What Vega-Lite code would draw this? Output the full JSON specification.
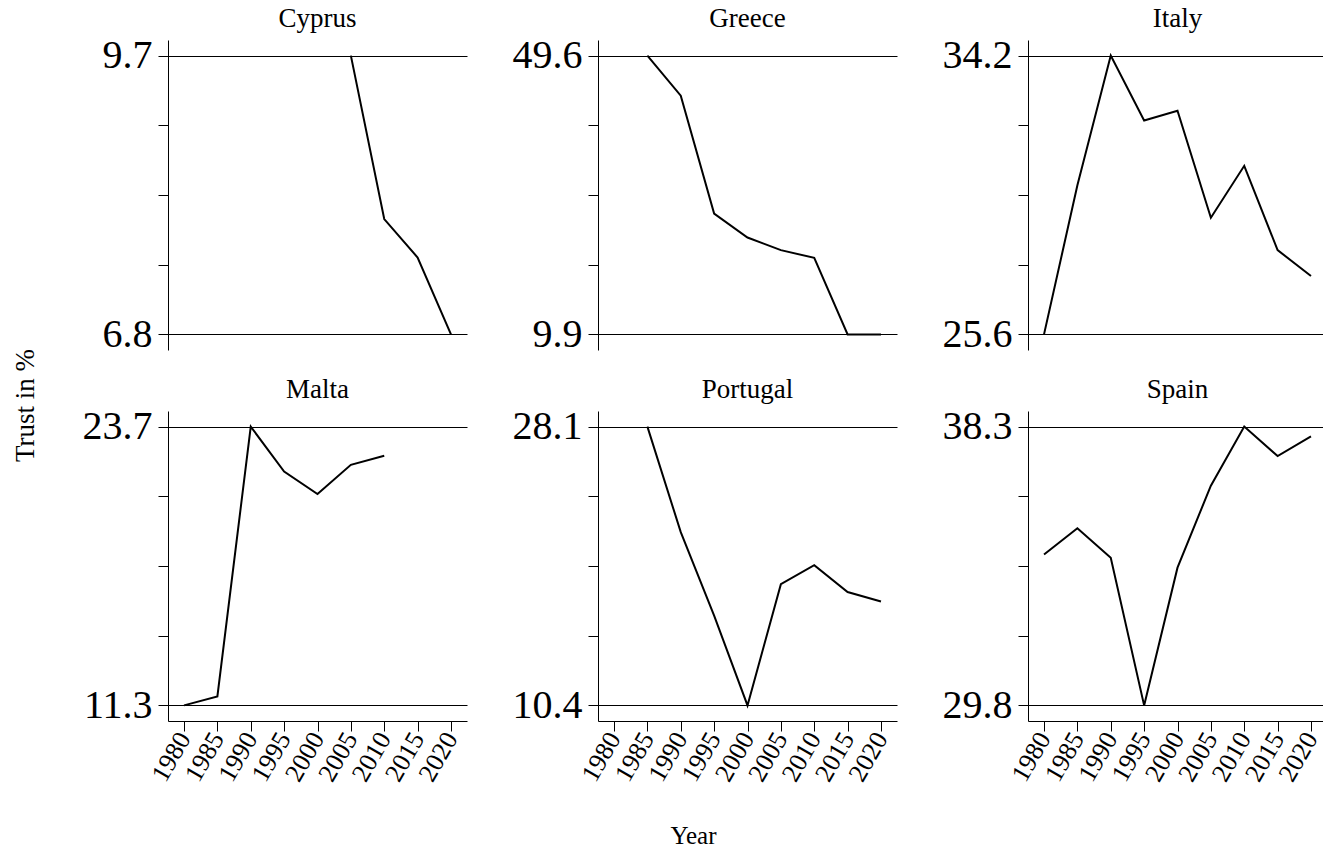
{
  "$schema": "https://vega.github.io/schema/vega-lite/v6.json",
  "background": "white",
  "padding": {"left": 11, "top": 5, "right": 0, "bottom": 5},
  "datasets": {
    "trust": [
      {"country": "Cyprus", "year": 2005, "trust": 9.7},
      {"country": "Cyprus", "year": 2010, "trust": 8.0},
      {"country": "Cyprus", "year": 2015, "trust": 7.6},
      {"country": "Cyprus", "year": 2020, "trust": 6.8},
      {"country": "Greece", "year": 1985, "trust": 49.6},
      {"country": "Greece", "year": 1990, "trust": 43.9},
      {"country": "Greece", "year": 1995, "trust": 27.1},
      {"country": "Greece", "year": 2000, "trust": 23.7},
      {"country": "Greece", "year": 2005, "trust": 21.9},
      {"country": "Greece", "year": 2010, "trust": 20.8},
      {"country": "Greece", "year": 2015, "trust": 9.9},
      {"country": "Greece", "year": 2020, "trust": 9.9},
      {"country": "Italy", "year": 1980, "trust": 25.6},
      {"country": "Italy", "year": 1985, "trust": 30.2},
      {"country": "Italy", "year": 1990, "trust": 34.2},
      {"country": "Italy", "year": 1995, "trust": 32.2},
      {"country": "Italy", "year": 2000, "trust": 32.5},
      {"country": "Italy", "year": 2005, "trust": 29.2},
      {"country": "Italy", "year": 2010, "trust": 30.8},
      {"country": "Italy", "year": 2015, "trust": 28.2},
      {"country": "Italy", "year": 2020, "trust": 27.4},
      {"country": "Malta", "year": 1980, "trust": 11.3},
      {"country": "Malta", "year": 1985, "trust": 11.7},
      {"country": "Malta", "year": 1990, "trust": 23.7},
      {"country": "Malta", "year": 1995, "trust": 21.7},
      {"country": "Malta", "year": 2000, "trust": 20.7},
      {"country": "Malta", "year": 2005, "trust": 22.0},
      {"country": "Malta", "year": 2010, "trust": 22.4},
      {"country": "Portugal", "year": 1985, "trust": 28.1},
      {"country": "Portugal", "year": 1990, "trust": 21.4},
      {"country": "Portugal", "year": 1995, "trust": 16.1},
      {"country": "Portugal", "year": 2000, "trust": 10.4},
      {"country": "Portugal", "year": 2005, "trust": 18.1},
      {"country": "Portugal", "year": 2010, "trust": 19.3},
      {"country": "Portugal", "year": 2015, "trust": 17.6},
      {"country": "Portugal", "year": 2020, "trust": 17.0},
      {"country": "Spain", "year": 1980, "trust": 34.4},
      {"country": "Spain", "year": 1985, "trust": 35.2},
      {"country": "Spain", "year": 1990, "trust": 34.3},
      {"country": "Spain", "year": 1995, "trust": 29.8},
      {"country": "Spain", "year": 2000, "trust": 34.0},
      {"country": "Spain", "year": 2005, "trust": 36.5},
      {"country": "Spain", "year": 2010, "trust": 38.3},
      {"country": "Spain", "year": 2015, "trust": 37.4},
      {"country": "Spain", "year": 2020, "trust": 38.0}
    ]
  },
  "data": {"name": "trust"},
  "columns": 3,
  "spacing": {"row": 61, "column": 131},
  "bounds": "flush",
  "concat": [
    {
      "title": {"text": "Cyprus"},
      "width": 299, "height": 310,
      "transform": [{"filter": "datum.country == 'Cyprus'"}],
      "mark": {"type": "line", "color": "black", "strokeWidth": 2},
      "encoding": {
        "x": {"field": "year", "type": "quantitative", "scale": {"domain": [1977.6, 2022.4], "nice": false, "zero": false}, "axis": null},
        "y": {"field": "trust", "type": "quantitative", "scale": {"domain": [6.6377, 9.8623], "nice": false, "zero": false},
          "axis": {"title": "Trust in %", "titleAngle": -90, "titleX": -135, "titleY": 365, "titleAlign": "center", "titleBaseline": "alphabetic", "titleFontSize": 27,
            "values": [6.8, 7.525, 8.25, 8.975, 9.7],
            "labelExpr": "(datum.value == 6.8 || datum.value == 9.7) ? format(datum.value, '.1f') : ''",
            "gridOpacity": {"condition": {"test": "datum.value == 6.8 || datum.value == 9.7", "value": 1}, "value": 0}}}
      }
    },
    {
      "title": {"text": "Greece"},
      "width": 299, "height": 310,
      "transform": [{"filter": "datum.country == 'Greece'"}],
      "mark": {"type": "line", "color": "black", "strokeWidth": 2},
      "encoding": {
        "x": {"field": "year", "type": "quantitative", "scale": {"domain": [1977.6, 2022.4], "nice": false, "zero": false}, "axis": null},
        "y": {"field": "trust", "type": "quantitative", "scale": {"domain": [7.6784, 51.8216], "nice": false, "zero": false},
          "axis": {"title": null, "values": [9.9, 19.825, 29.75, 39.675, 49.6],
            "labelExpr": "(datum.value == 9.9 || datum.value == 49.6) ? format(datum.value, '.1f') : ''",
            "gridOpacity": {"condition": {"test": "datum.value == 9.9 || datum.value == 49.6", "value": 1}, "value": 0}}}
      }
    },
    {
      "title": {"text": "Italy"},
      "width": 299, "height": 310,
      "transform": [{"filter": "datum.country == 'Italy'"}],
      "mark": {"type": "line", "color": "black", "strokeWidth": 2},
      "encoding": {
        "x": {"field": "year", "type": "quantitative", "scale": {"domain": [1977.6, 2022.4], "nice": false, "zero": false}, "axis": null},
        "y": {"field": "trust", "type": "quantitative", "scale": {"domain": [25.1187, 34.6813], "nice": false, "zero": false},
          "axis": {"title": null, "values": [25.6, 27.75, 29.9, 32.05, 34.2],
            "labelExpr": "(datum.value == 25.6 || datum.value == 34.2) ? format(datum.value, '.1f') : ''",
            "gridOpacity": {"condition": {"test": "datum.value == 25.6 || datum.value == 34.2", "value": 1}, "value": 0}}}
      }
    },
    {
      "title": {"text": "Malta"},
      "width": 299, "height": 310,
      "transform": [{"filter": "datum.country == 'Malta'"}],
      "mark": {"type": "line", "color": "black", "strokeWidth": 2},
      "encoding": {
        "x": {"field": "year", "type": "quantitative", "scale": {"domain": [1977.6, 2022.4], "nice": false, "zero": false},
          "axis": {"title": null, "values": [1980, 1985, 1990, 1995, 2000, 2005, 2010, 2015, 2020], "format": "d", "labelAngle": -60}},
        "y": {"field": "trust", "type": "quantitative", "scale": {"domain": [10.6061, 24.3939], "nice": false, "zero": false},
          "axis": {"title": null,
            "values": [11.3, 14.4, 17.5, 20.6, 23.7],
            "labelExpr": "(datum.value == 11.3 || datum.value == 23.7) ? format(datum.value, '.1f') : ''",
            "gridOpacity": {"condition": {"test": "datum.value == 11.3 || datum.value == 23.7", "value": 1}, "value": 0}}}
      }
    },
    {
      "title": {"text": "Portugal"},
      "width": 299, "height": 310,
      "transform": [{"filter": "datum.country == 'Portugal'"}],
      "mark": {"type": "line", "color": "black", "strokeWidth": 2},
      "encoding": {
        "x": {"field": "year", "type": "quantitative", "scale": {"domain": [1977.6, 2022.4], "nice": false, "zero": false},
          "axis": {"title": "Year", "titleX": 95, "titleY": 122, "titleAlign": "center", "titleBaseline": "alphabetic", "titleFontSize": 25,
            "values": [1980, 1985, 1990, 1995, 2000, 2005, 2010, 2015, 2020], "format": "d", "labelAngle": -60}},
        "y": {"field": "trust", "type": "quantitative", "scale": {"domain": [9.4095, 29.0905], "nice": false, "zero": false},
          "axis": {"title": null, "values": [10.4, 14.825, 19.25, 23.675, 28.1],
            "labelExpr": "(datum.value == 10.4 || datum.value == 28.1) ? format(datum.value, '.1f') : ''",
            "gridOpacity": {"condition": {"test": "datum.value == 10.4 || datum.value == 28.1", "value": 1}, "value": 0}}}
      }
    },
    {
      "title": {"text": "Spain"},
      "width": 299, "height": 310,
      "transform": [{"filter": "datum.country == 'Spain'"}],
      "mark": {"type": "line", "color": "black", "strokeWidth": 2},
      "encoding": {
        "x": {"field": "year", "type": "quantitative", "scale": {"domain": [1977.6, 2022.4], "nice": false, "zero": false},
          "axis": {"title": null, "values": [1980, 1985, 1990, 1995, 2000, 2005, 2010, 2015, 2020], "format": "d", "labelAngle": -60}},
        "y": {"field": "trust", "type": "quantitative", "scale": {"domain": [29.3243, 38.7757], "nice": false, "zero": false},
          "axis": {"title": null, "values": [29.8, 31.925, 34.05, 36.175, 38.3],
            "labelExpr": "(datum.value == 29.8 || datum.value == 38.3) ? format(datum.value, '.1f') : ''",
            "gridOpacity": {"condition": {"test": "datum.value == 29.8 || datum.value == 38.3", "value": 1}, "value": 0}}}
      }
    }
  ],
  "config": {
    "font": "Liberation Serif",
    "view": {"stroke": null},
    "axis": {"domainColor": "black", "domainWidth": 1, "tickColor": "black", "tickWidth": 1, "tickSize": 10, "gridColor": "black", "gridWidth": 1,
      "labelColor": "black", "titleColor": "black", "labelFontWeight": "normal", "titleFontWeight": "normal", "labelOverlap": false, "labelFlush": false, "titleFont": "Liberation Serif", "labelFont": "Liberation Serif"},
    "axisY": {"labelFontSize": 40, "labelPadding": 6, "grid": true, "labelBaseline": "middle"},
    "axisX": {"labelFontSize": 26, "grid": false, "labelPadding": 3},
    "title": {"fontSize": 27, "fontWeight": "normal", "color": "black", "baseline": "alphabetic", "offset": 2.5, "frame": "group", "anchor": "middle", "font": "Liberation Serif"}
  }
}
